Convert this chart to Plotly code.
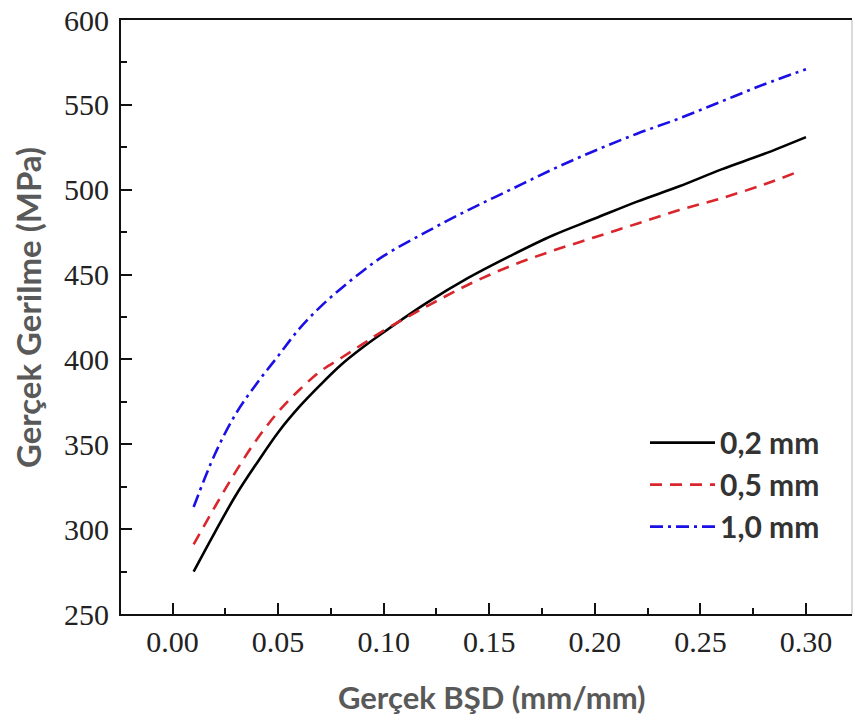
import plotly.graph_objects as go

# strain values (mm/mm)
strain = [0.01, 0.02, 0.03, 0.04, 0.05, 0.06, 0.07, 0.08, 0.09, 0.10,
          0.12, 0.14, 0.16, 0.18, 0.20, 0.22, 0.24, 0.26, 0.28, 0.30]
strain_05 = [0.01, 0.02, 0.03, 0.04, 0.05, 0.06, 0.07, 0.08, 0.09, 0.10,
             0.12, 0.14, 0.16, 0.18, 0.20, 0.22, 0.24, 0.26, 0.28, 0.295]

stress_02 = [275, 298, 320, 339, 357, 372, 385, 397, 407, 416,
             433, 448, 461, 473, 483, 493, 502, 512, 521, 531]
stress_05 = [291, 313, 334, 353, 369, 382, 393, 401, 409, 417,
             431, 444, 455, 464, 472, 480, 488, 495, 503, 510]
stress_10 = [313, 344, 368, 386, 402, 418, 431, 442, 452, 461,
             475, 488, 500, 512, 523, 533, 542, 552, 562, 571]

names = ["0,2 mm", "0,5 mm", "1,0 mm"]
x_ticks = [0.00, 0.05, 0.10, 0.15, 0.20, 0.25, 0.30]
y_ticks = [250, 300, 350, 400, 450, 500, 550, 600]

fig = go.Figure()
fig.add_trace(go.Scatter(x=strain, y=stress_02, mode="lines", name=names[0],
                         line=dict(color="#000000", width=2.6, shape="spline", smoothing=1.0)))
fig.add_trace(go.Scatter(x=strain_05, y=stress_05, mode="lines", name=names[1],
                         line=dict(color="#d9262c", width=2.6, dash="12px,8px",
                                   shape="spline", smoothing=1.0)))
fig.add_trace(go.Scatter(x=strain, y=stress_10, mode="lines", name=names[2],
                         line=dict(color="#1a10e6", width=2.6, dash="13px,5px,3px,5px",
                                   shape="spline", smoothing=1.0)))

tickfont = dict(family="Liberation Serif", size=30, color="#222222")
fig.update_xaxes(range=[-0.0244, 0.3218], tickvals=x_ticks,
                 ticktext=[f"{v:.2f}" for v in x_ticks],
                 showline=True, linecolor="#111111", linewidth=2, mirror=True,
                 ticks="inside", ticklen=11, tickwidth=2, tickcolor="#111111",
                 minor=dict(ticks="inside", ticklen=6, tickwidth=2, dtick=0.025,
                            tick0=0, tickcolor="#111111"),
                 showgrid=False, zeroline=False, tickfont=tickfont)
fig.update_yaxes(range=[250, 600], tickvals=y_ticks,
                 showline=True, linecolor="#111111", linewidth=2, mirror=False,
                 ticks="inside", ticklen=11, tickwidth=2, tickcolor="#111111",
                 minor=dict(ticks="inside", ticklen=6, tickwidth=2, dtick=25,
                            tick0=250, tickcolor="#111111"),
                 ticklabelstandoff=4,
                 showgrid=False, zeroline=False, tickfont=tickfont)

fig.add_shape(type="line", xref="paper", yref="paper", x0=1, x1=1, y0=0, y1=1,
              line=dict(color="#cfcfcf", width=1.5))

fig.add_annotation(text="<b>Gerçek BŞD (mm/mm)</b>", xref="paper", yref="paper",
                   x=(492 - 121) / 731, y=-(697 - 614) / 596, showarrow=False,
                   font=dict(family="Lato", size=31, color="#595959"),
                   xanchor="center", yanchor="middle")
fig.add_annotation(text="<b>Gerçek Gerilme (MPa)</b>", xref="paper", yref="paper",
                   x=-(121 - 28) / 731, y=(614 - 307) / 596, showarrow=False,
                   textangle=-90, font=dict(family="Lato", size=33, color="#595959"),
                   xanchor="center", yanchor="middle")

fig.update_layout(
    width=855, height=724,
    margin=dict(l=121, r=3, t=18, b=110),
    paper_bgcolor="white", plot_bgcolor="white",
    showlegend=True,
    legend=dict(x=(645 - 121) / 731, y=(614 - 416) / 596, xanchor="left", yanchor="top",
                bgcolor="rgba(0,0,0,0)", itemwidth=65,
                font=dict(family="Lato", size=30, color="#333333"),
                traceorder="normal"),
)
fig.for_each_trace(lambda t: t.update(name=f"<b>{t.name}</b>"))

fig.write_html("out.html")
